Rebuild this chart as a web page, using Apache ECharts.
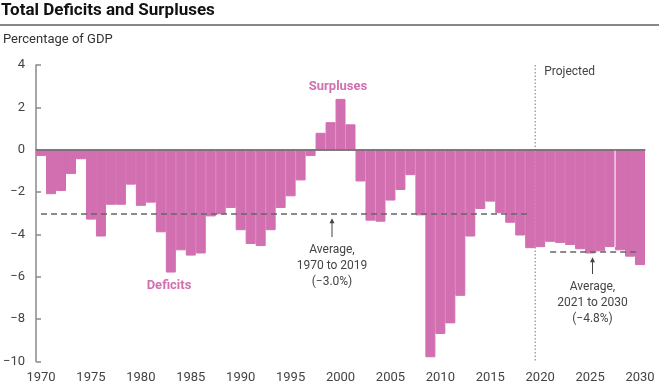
<!DOCTYPE html>
<html><head><meta charset="utf-8">
<script src="https://cdn.jsdelivr.net/npm/echarts@6/dist/echarts.min.js"></script>
<style>html,body{margin:0;padding:0;background:#fff}#c{width:659px;height:391px}</style>
</head><body><div id="c"></div>
<script>
const years = [];
for (let y = 1970; y <= 2030; y++) years.push(String(y));
const balance = [
  -0.3, -2.1, -1.95, -1.15, -0.45, -3.3, -4.1, -2.6, -2.6, -1.65,
  -2.65, -2.5, -3.9, -5.8, -4.75, -5.0, -4.9, -3.15, -3.05, -2.75,
  -3.8, -4.45, -4.55, -3.8, -2.75, -2.2, -1.45, -0.3, 0.8, 1.3,
  2.4, 1.2, -1.5, -3.35, -3.4, -2.4, -1.9, -1.2, -3.1, -9.8,
  -8.7, -8.2, -6.9, -4.1, -2.8, -2.45, -3.0, -3.45, -4.05, -4.65,
  -4.6, -4.35, -4.4, -4.5, -4.7, -4.9, -4.8, -4.6, -4.75, -5.05,
  -5.45
];
const histAvg = -3.0, projAvg = -4.8;
const yTicks = [-10, -8, -6, -4, -2, 0, 2, 4];
const FONT = 'Roboto, "Noto Sans", sans-serif';
const PINK = '#d26fb0';

const chart = echarts.init(document.getElementById('c'));
chart.setOption({
  animation: false,
  grid: {left: 33, right: 14, top: 65, bottom: 29.5},
  xAxis: {
    type: 'category', data: years, boundaryGap: true,
    axisLine: {lineStyle: {color: '#8a8a8a', width: 1.5}},
    axisTick: {inside: true, alignWithLabel: true, interval: 4, length: 5, lineStyle: {color: '#8a8a8a', width: 1.5}},
    axisLabel: {interval: 4, color: '#444', fontSize: 13, fontFamily: FONT, margin: 10}
  },
  yAxis: {
    type: 'value', min: yTicks[0], max: yTicks[yTicks.length - 1], interval: 2,
    splitLine: {show: false},
    axisLine: {show: true, lineStyle: {color: '#8a8a8a', width: 1.5}},
    axisTick: {show: true, inside: true, length: 5, lineStyle: {color: '#8a8a8a', width: 1.5}},
    axisLabel: {color: '#444', fontSize: 13, fontFamily: FONT, margin: 11,
      formatter: v => String(v).replace('-', '\u2212')}
  },
  series: [{
    type: 'bar', data: balance, barWidth: '100%', barCategoryGap: '0%',
    itemStyle: {color: PINK, borderColor: PINK, borderWidth: 1},
    markLine: {
      silent: true, symbol: 'none', label: {show: false},
      data: [
        [{coord: ['1970', histAvg], lineStyle: {type: [6, 4], color: '#666', width: 1.5}}, {coord: ['2019', histAvg]}],
        [{coord: ['2021', projAvg], lineStyle: {type: [6, 4], color: '#666', width: 1.5}}, {coord: ['2030', projAvg]}],
        {yAxis: 0, lineStyle: {type: 'solid', color: '#6e6e6e', width: 1.5}}
      ]
    }
  }]
});

const px = (cat, v) => chart.convertToPixel({gridIndex: 0}, [cat, v]);
const xSplit = (px('2019', 0)[0] + px('2020', 0)[0]) / 2;
const xGap = (px('2027', 0)[0] + px('2028', 0)[0]) / 2;
const yTop = px('1970', 4)[1], yBot = px('1970', -10)[1];
function arrow(x, yTip, yEnd) {
  return [
    {type: 'line', shape: {x1: x, y1: yTip + 2, x2: x, y2: yEnd}, style: {stroke: '#444', lineWidth: 1}},
    {type: 'polygon', shape: {points: [[x, yTip], [x - 2.5, yTip + 5], [x + 2.5, yTip + 5]]}, style: {fill: '#444'}}
  ];
}
function txt(x, y, text, extra) {
  return {type: 'text', x: x, y: y, style: Object.assign({text: text, fill: '#444', font: '12px ' + FONT, textAlign: 'center', textVerticalAlign: 'middle'}, extra || {})};
}
const a1x = 332, a2x = 592.5;
chart.setOption({
  graphic: [
    {type: 'text', left: 1, top: 2, style: {text: 'Total Deficits and Surpluses', fill: '#111', font: 'bold 17px ' + FONT}},
    {type: 'rect', shape: {x: 0, y: 24, width: 659, height: 2}, style: {fill: '#888'}},
    {type: 'text', left: 3, top: 33, style: {text: 'Percentage of GDP', fill: '#333', font: '13px ' + FONT}},
    {type: 'line', shape: {x1: xSplit, y1: yTop, x2: xSplit, y2: yBot}, style: {stroke: '#777', lineWidth: 1, lineDash: [1.5, 2]}},
    {type: 'line', z: 10, shape: {x1: xGap, y1: px('2027', 0)[1] + 1, x2: xGap, y2: px('2027', balance[57])[1]}, style: {stroke: '#fff', lineWidth: 1}},
    txt(xSplit + 9, 72, 'Projected', {textAlign: 'left'}),
    txt(338, 87, 'Surpluses', {fill: PINK, font: 'bold 13px ' + FONT}),
    txt(169, 286, 'Deficits', {fill: PINK, font: 'bold 13px ' + FONT}),
    ...arrow(a1x, px('1999', histAvg)[1] + 5, 237),
    txt(a1x, 250, 'Average,'),
    txt(a1x, 266, '1970 to 2019'),
    txt(a1x, 282, '(\u22123.0%)'),
    ...arrow(a2x, px('2025', projAvg)[1] + 6, 274),
    txt(a2x, 287, 'Average,'),
    txt(a2x, 303, '2021 to 2030'),
    txt(a2x, 319, '(\u22124.8%)')
  ]
});
</script></body></html>
